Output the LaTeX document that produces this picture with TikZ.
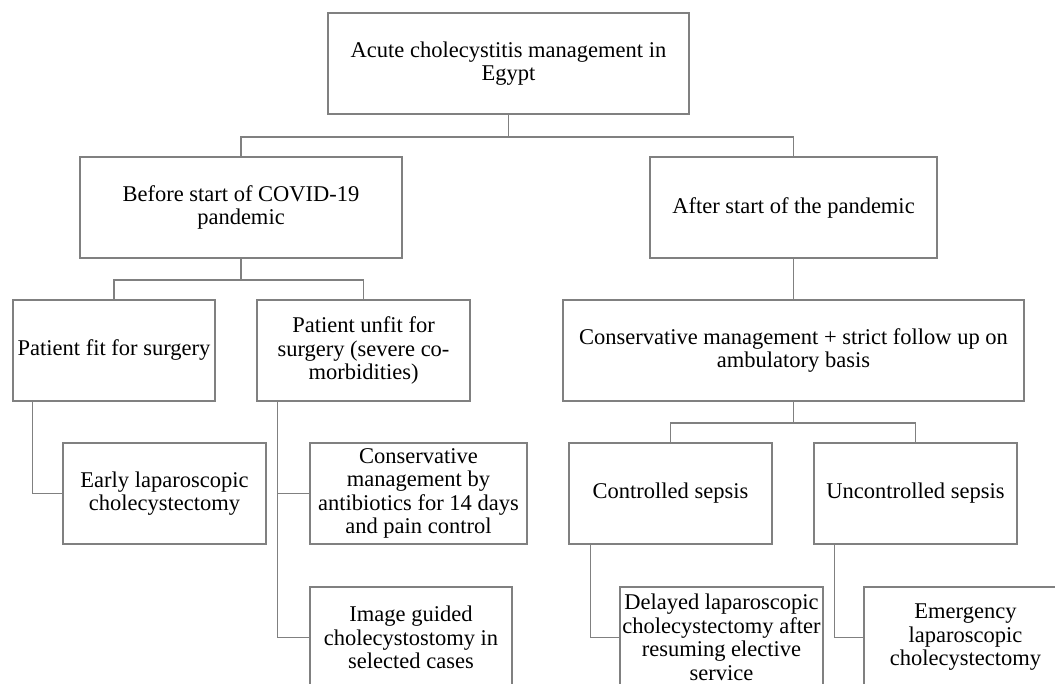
\documentclass[tikz,border=0pt]{standalone}
\usepackage{fontspec}
\setmainfont{Liberation Serif}
\definecolor{linegray}{RGB}{128,128,128}

\begin{document}
\begin{tikzpicture}[x=1pt, y=-1pt, line width=1.5pt, text=black, draw=linegray,
    stage/.style={draw=linegray, rectangle, minimum height=101pt, inner sep=2pt,
      align=center, font=\fontsize{22.5}{23.5}\selectfont}]

        % Fix the page to the size of the chart and cut off what runs over
        \fill[white] (0,0) rectangle (1055,683);
        \useasboundingbox (0,0) rectangle (1055,683);
        \clip (0,0) rectangle (1055,683);

        % Top of the chart
        \node[stage, minimum width=361pt] (Root) at (508.5,63.5)
          {Acute cholecystitis management in\\Egypt};

        % The two periods
        \node[stage, minimum width=322pt] (Before) at (241,207.5)
          {Before start of COVID-19\\pandemic};
        \node[stage, minimum width=287pt] (After) at (793.5,207.5)
          {After start of the pandemic};

        % Second row
        \node[stage, minimum width=202pt] (Fit) at (114,350.5)
          {Patient fit for surgery};
        \node[stage, minimum width=213pt] (Unfit) at (363.5,350.5)
          {Patient unfit for\\surgery (severe co-\\morbidities)};
        \node[stage, minimum width=461pt] (ConsPlus) at (793.5,350.5)
          {Conservative management + strict follow up on\\ambulatory basis};

        % Third row
        \node[stage, minimum width=203pt] (Early) at (164.5,493.5)
          {Early laparoscopic\\cholecystectomy};
        \node[stage, minimum width=217pt] (ConsAB) at (418.5,493.5)
          {Conservative\\management by\\antibiotics for 14 days\\and pain control};
        \node[stage, minimum width=203pt] (Controlled) at (670.5,493.5)
          {Controlled sepsis};
        \node[stage, minimum width=203pt] (Uncontrolled) at (915.5,493.5)
          {Uncontrolled sepsis};

        % Bottom row, cut by the lower edge
        \node[stage, minimum width=202pt] (Image) at (411,637.5)
          {Image guided\\cholecystostomy in\\selected cases};
        \node[stage, minimum width=203pt] (Delayed) at (721.5,637.5)
          {Delayed laparoscopic\\cholecystectomy after\\resuming elective\\service};
        \node[stage, minimum width=203pt] (Emergency) at (965.5,637.5)
          {Emergency\\laparoscopic\\cholecystectomy};

        % Elbow links between the levels
        \draw (Root.south) -- ++(0,22) coordinate (RootFork);
        \draw (Before.north) |- (RootFork) -| (After.north);
        \draw (Before.south) -- ++(0,21) coordinate (BeforeFork);
        \draw (Fit.north) |- (BeforeFork) -| (Unfit.north);
        \draw (After.south) -- (ConsPlus.north);
        \draw (ConsPlus.south) -- ++(0,21) coordinate (SepsisFork);
        \draw (Controlled.north) |- (SepsisFork) -| (Uncontrolled.north);

        % Side links running down the left of each box
        \draw ([xshift=20pt]Fit.south west) |- (Early.west);
        \draw ([xshift=21pt]Unfit.south west) |- (ConsAB.west);
        \draw ([xshift=21pt]Unfit.south west) |- (Image.west);
        \draw ([xshift=22pt]Controlled.south west) |- (Delayed.west);
        \draw ([xshift=21pt]Uncontrolled.south west) |- (Emergency.west);

      \end{tikzpicture}
\end{document}
